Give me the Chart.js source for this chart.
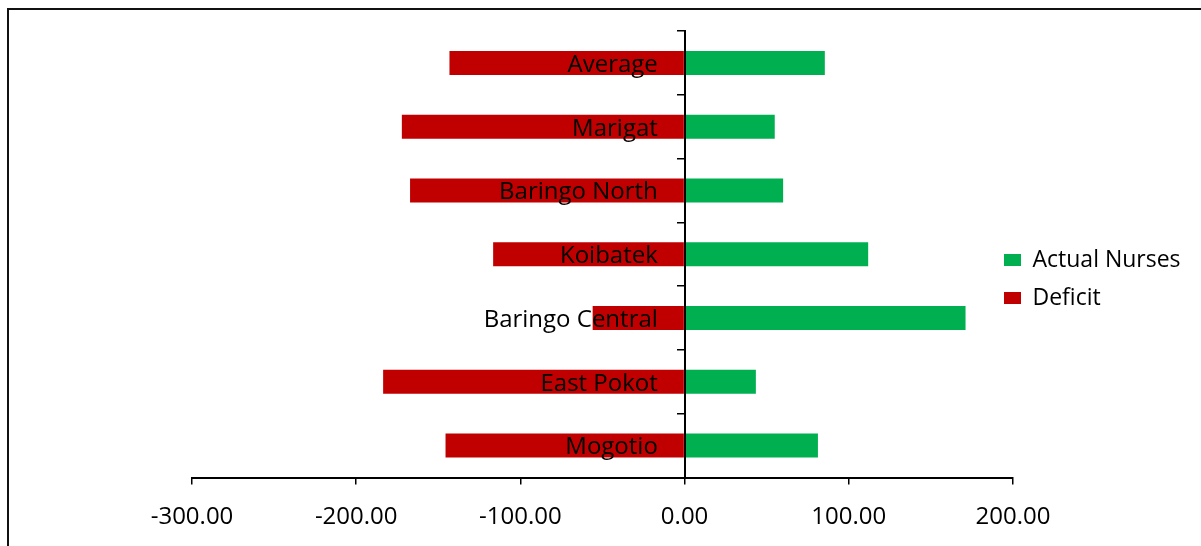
<!DOCTYPE html>
<html>
<head>
<meta charset="utf-8">
<script src="https://cdn.jsdelivr.net/npm/chart.js@4/dist/chart.umd.min.js"></script>
<style>
  html, body { margin: 0; padding: 0; background: #fff; }
  #wrap { position: relative; width: 1201px; height: 546px; }
</style>
</head>
<body>
<div id="wrap"><canvas id="c" width="1201" height="546"></canvas></div>
<script>
// Nurses per sub-county: staff in post (right) and shortfall (left)
const categories = ['Average', 'Marigat', 'Baringo North', 'Koibatek', 'Baringo Central', 'East Pokot', 'Mogotio'];
const actualNurses = [85.4, 54.9, 60.0, 111.8, 171.1, 43.4, 81.2];
const deficit = [-143.2, -172.2, -167.2, -116.6, -56.0, -183.6, -145.6];
const xTickValues = [-300, -200, -100, 0, 100, 200];

const FONT = 'Open Sans';
// category names end a short way left of the zero line (in x units)
const NAME_ANCHOR = -16.3;

// Thin frame along the top and left edges of the figure
const framePlugin = {
  id: 'frame',
  beforeDraw(chart) {
    const ctx = chart.ctx;
    ctx.save();
    ctx.strokeStyle = '#111';
    ctx.lineWidth = 2;
    ctx.beginPath();
    ctx.moveTo(8, chart.height);
    ctx.lineTo(8, 9);
    ctx.lineTo(chart.width, 9);
    ctx.stroke();
    ctx.restore();
  }
};

// Let the legend sit a little into the plot's right margin, centred lower down
const legendPlace = {
  id: 'legendPlace',
  afterLayout(chart) {
    const lg = chart.legend;
    if (!lg) return;
    lg.left = chart.chartArea.right - 24;
    lg.right = chart.width;
    const dy = 279 - (lg.top + lg.bottom) / 2;
    lg.top += dy; lg.bottom += dy;
  }
};

const noPad = (s) => { s.paddingTop = 0; s.paddingBottom = 0; };

new Chart(document.getElementById('c'), {
  type: 'bar',
  data: {
    labels: categories,
    datasets: [
      { label: 'Actual Nurses', data: actualNurses, backgroundColor: '#00B050', borderWidth: 0 },
      { label: 'Deficit', data: deficit, backgroundColor: '#C00000', borderWidth: 0 }
    ]
  },
  options: {
    indexAxis: 'y',
    responsive: false,
    animation: false,
    devicePixelRatio: 1,
    barPercentage: 0.376,
    categoryPercentage: 1,
    layout: { padding: { top: 31, left: 192, bottom: 0, right: 0 } },
    plugins: {
      tooltip: { enabled: false },
      legend: {
        position: 'right',
        maxWidth: 188,
        labels: {
          boxWidth: 17,
          boxHeight: 12,
          padding: 15,
          color: '#000',
          font: { family: FONT, size: 23 }
        }
      }
    },
    scales: {
      x: {
        stacked: true,
        min: xTickValues[0],
        max: xTickValues[xTickValues.length - 1],
        afterBuildTicks: (s) => { s.ticks = xTickValues.map(v => ({ value: v })); },
        afterFit: (s) => { s.height = 68.5; s.paddingLeft = 0; s.paddingRight = 0; },
        border: { color: '#000', width: 2 },
        grid: { drawOnChartArea: false, tickLength: 7, color: '#000', lineWidth: 1.5 },
        ticks: {
          color: '#000',
          padding: 18,
          maxRotation: 0,
          font: { family: FONT, size: 24 },
          callback: (v) => Number(v).toFixed(2)
        }
      },
      // vertical axis line with tick marks between categories, crossing at x = 0
      y: {
        stacked: true,
        position: { x: 0 },
        offset: true,
        afterFit: noPad,
        border: { color: '#000', width: 2, z: 1 },
        grid: { drawOnChartArea: false, offset: true, tickLength: 7, color: '#000', lineWidth: 1.5, z: 1 },
        ticks: { display: false }
      },
      // category names, drawn over the bars
      yNames: {
        type: 'category',
        axis: 'y',
        labels: categories,
        position: { x: NAME_ANCHOR },
        offset: true,
        afterFit: noPad,
        border: { display: false },
        grid: { display: false },
        ticks: {
          color: '#000',
          z: 1,
          labelOffset: 2,
          font: { family: FONT, size: 24 }
        }
      }
    }
  },
  plugins: [framePlugin, legendPlace]
});
</script>
</body>
</html>
